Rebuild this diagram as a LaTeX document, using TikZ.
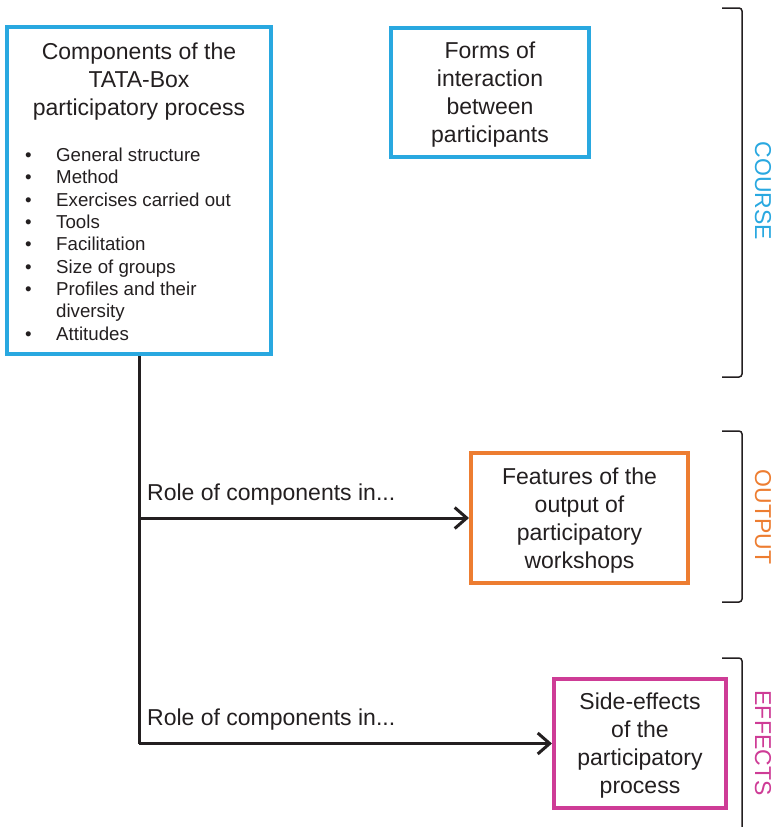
\documentclass[tikz,border=0pt]{standalone}
\usepackage{fontspec}
\setmainfont{Liberation Sans}
\usetikzlibrary{arrows.meta}
\definecolor{courseblue}{RGB}{41,168,224}
\definecolor{outputorange}{RGB}{237,125,49}
\definecolor{effectspink}{RGB}{206,60,150}
\definecolor{inkgray}{RGB}{35,31,32}

\begin{document}
\begin{tikzpicture}[x=1pt,y=1pt]
\tikzstyle{every node}+=[inner sep=0pt, text=inkgray, font=\fontsize{23}{28}\selectfont]
\tikzstyle{box}=[draw, line width=4pt, align=center, text depth=0pt]
\tikzstyle{link}=[line width=3pt, draw=inkgray, -{Straight Barb[length=12pt,width=21pt]}]
\tikzstyle{trunk}=[line width=3pt, draw=inkgray]
\tikzstyle{brace}=[line width=1.5pt, draw=inkgray, rounded corners=3pt]
\tikzstyle{side}=[rotate=-90]
\useasboundingbox (0,0) rectangle (773,-827);
\node [box, draw=courseblue, minimum width=264, minimum height=327] (comp) at (139,-190.5) {};
\node [anchor=base, align=center] (comptitle) at (139,-115) {Components of the\\TATA-Box\\participatory process};
\node [anchor=base west, align=left, font=\fontsize{18.7}{22.3}\selectfont] (complist) at (25,-340) {%
\makebox[31pt][l]{\textbullet}General structure\\
\makebox[31pt][l]{\textbullet}Method\\
\makebox[31pt][l]{\textbullet}Exercises carried out\\
\makebox[31pt][l]{\textbullet}Tools\\
\makebox[31pt][l]{\textbullet}Facilitation\\
\makebox[31pt][l]{\textbullet}Size of groups\\
\makebox[31pt][l]{\textbullet}Profiles and their\\
\hspace*{31pt}diversity\\
\makebox[31pt][l]{\textbullet}Attitudes};
\node [box, draw=courseblue, minimum width=198, minimum height=129] (forms) at (490,-92.5) {Forms of\\interaction\\between\\participants};
\node [box, draw=outputorange, minimum width=217, minimum height=130] (feat) at (579.5,-518) {Features of the\\output of\\participatory\\workshops};
\node [box, draw=effectspink, minimum width=172, minimum height=129] (sidefx) at (640,-743.5) {Side-effects\\of the\\participatory\\process};
\draw [trunk] (comp.south) -- (comp.south |- sidefx.west);
\draw [link] (comp.south |- feat.west) -- (feat.west);
\draw [link] (comp.south |- sidefx.west) -- (sidefx.west);
\node [anchor=base west] (roleout) at (147,-500) {Role of components in...};
\node [anchor=base west] (roleeff) at (147,-725) {Role of components in...};
\draw [brace] (722,-8) -- (742,-8) -- (742,-377) -- (722,-377);
\draw [brace] (722,-431) -- (742,-431) -- (742,-602) -- (722,-602);
\draw [brace] (722,-658) -- (742,-658) -- (742,-830);
\node [side, text=courseblue] (course) at (763,-191) {COURSE};
\node [side, text=outputorange] (output) at (763,-517) {OUTPUT};
\node [side, text=effectspink] (effects) at (763,-743) {EFFECTS};
\end{tikzpicture}
\end{document}
